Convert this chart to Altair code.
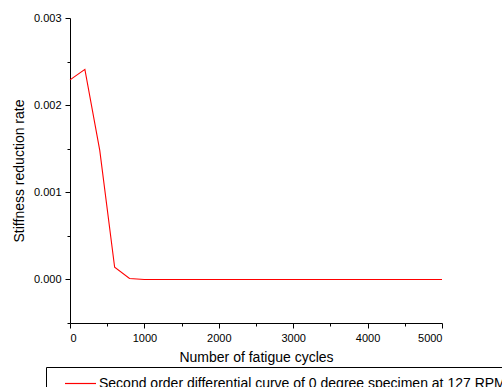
import altair as alt
import pandas as pd

# Second-order differential of stiffness vs. fatigue cycles
cycles = [0, 200, 400, 600, 800, 1000, 2000, 3000, 4000, 5000]
rate = [0.00229, 0.00241, 0.00148, 0.00014, 0.00001, 0.0, 0.0, 0.0, 0.0, 0.0]
series_name = "Second order differential curve of 0 degree specimen at 127 RPM"

df = pd.DataFrame({
    "cycles": cycles,
    "rate": rate,
    "series": [series_name] * len(cycles),
})

FONT = "Liberation Sans"

x_axis = alt.Axis(
    values=list(range(0, 5001, 500)),
    labelExpr="datum.value % 1000 == 0 ? format(datum.value, 'd') : ''",
    tickSize={"condition": {"test": "datum.value % 1000 != 0", "value": 3}, "value": 5},
    title="Number of fatigue cycles",
    grid=False,
    domainColor="black",
    tickColor="black",
    labelColor="black",
    titleColor="black",
    labelFont=FONT,
    titleFont=FONT,
    labelFontSize=11,
    titleFontSize=14,
    titleFontWeight="normal",
    labelPadding=4,
    titlePadding=7,
)

y_axis = alt.Axis(
    values=[-0.0005, 0.0, 0.0005, 0.001, 0.0015, 0.002, 0.0025, 0.003],
    labelExpr="round(datum.value * 2000) % 2 == 0 ? format(datum.value, '.3f') : ''",
    tickSize={"condition": {"test": "round(datum.value * 2000) % 2 != 0", "value": 3}, "value": 5},
    title="Stiffness reduction rate",
    grid=False,
    domainColor="black",
    tickColor="black",
    labelColor="black",
    titleColor="black",
    labelFont=FONT,
    titleFont=FONT,
    labelFontSize=11,
    titleFontSize=14,
    titleFontWeight="normal",
    labelPadding=4,
    titlePadding=7,
)

chart = (
    alt.Chart(df)
    .mark_line(strokeWidth=1.1)
    .encode(
        x=alt.X("cycles:Q", scale=alt.Scale(domain=[0, 5000], nice=False, zero=False), axis=x_axis),
        y=alt.Y("rate:Q", scale=alt.Scale(domain=[-0.0005, 0.003], nice=False, zero=False), axis=y_axis),
        color=alt.Color(
            "series:N",
            scale=alt.Scale(domain=[series_name], range=["#ff0000"]),
            legend=alt.Legend(
                title=None,
                orient="none",
                legendX=-24,
                legendY=349,
                strokeColor="black",
                padding=0,
                symbolOffset=18,
                symbolType="stroke",
                symbolSize=961,
                symbolStrokeWidth=1.2,
                labelFont=FONT,
                labelFontSize=14,
                labelColor="black",
                labelLimit=1000,
                labelOffset=2,
            ),
        ),
    )
    .properties(
        width=372,
        height=305,
        background="white",
        padding={"left": 70, "top": 18, "right": 60, "bottom": 64},
        autosize=alt.AutoSizeParams(type="none"),
    )
    .configure_view(strokeOpacity=0, strokeWidth=0)
)

chart.save("out.html", embed_options={"renderer": "svg", "actions": False})
